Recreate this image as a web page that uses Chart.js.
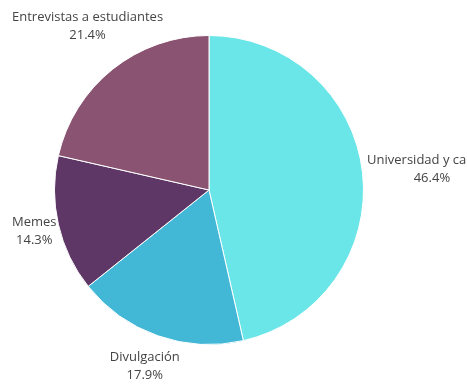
<!DOCTYPE html>
<html>
<head>
<meta charset="utf-8">
<script src="https://cdn.jsdelivr.net/npm/chart.js@4"></script>
<style>
  html, body { margin: 0; padding: 0; background: #fff; }
  #wrap { width: 467px; height: 385px; position: relative; }
</style>
</head>
<body>
<div id="wrap"><canvas id="pieChart"></canvas></div>
<script>
var categories = ['Universidad y carrera', 'Divulgación', 'Memes', 'Entrevistas a estudiantes'];
var counts = [13, 5, 4, 6];
var sliceColors = ['#6ae5e8', '#42b7d6', '#5e3766', '#895371'];

// labels outside each slice: name + percent, pushed out if they touch the pie
var outsideLabels = {
    id: 'outsideLabels',
    afterDatasetsDraw: function(chart) {
        var ctx = chart.ctx;
        var meta = chart.getDatasetMeta(0);
        var total = counts.reduce(function(a, b) { return a + b; }, 0);
        var lineH = 18, blockH = 32;
        ctx.save();
        ctx.font = '13px "Open Sans"';
        ctx.fillStyle = '#444';
        ctx.textAlign = 'center';
        ctx.textBaseline = 'middle';
        meta.data.forEach(function(arc, i) {
            var p = arc.getProps(['x', 'y', 'startAngle', 'endAngle', 'outerRadius'], true);
            var r = p.outerRadius;
            var mid = (p.startAngle + p.endAngle) / 2;
            var cos = Math.cos(mid), sin = Math.sin(mid);
            var line1 = categories[i];
            var line2 = (counts[i] / total * 100).toFixed(1) + '%';
            var w = Math.max(ctx.measureText(line1).width, ctx.measureText(line2).width);
            var cx = p.x + (r + 5) * cos + cos * w / 2;
            var cy = p.y + (r + 32) * sin;
            if (cx - w / 2 < 12) cx = 12 + w / 2;
            // move away from the pie until the text block clears it
            var step = sin < 0 ? -1 : 1;
            for (var k = 0; k < 200; k++) {
                var nx = Math.max(cx - w / 2, Math.min(p.x, cx + w / 2)) - p.x;
                var ny = Math.max(cy - blockH / 2, Math.min(p.y, cy + blockH / 2)) - p.y;
                if (Math.sqrt(nx * nx + ny * ny) >= r) break;
                cy += step;
            }
            ctx.fillText(line1, cx, cy - lineH / 2);
            ctx.fillText(line2, cx, cy + lineH / 2);
        });
        ctx.restore();
    }
};

var pieChart = new Chart(document.getElementById('pieChart').getContext('2d'), {
    type: 'pie',
    data: {
        labels: categories,
        datasets: [{
            data: counts,
            backgroundColor: sliceColors,
            borderColor: '#fff',
            borderWidth: 1,
            hoverOffset: 0
        }]
    },
    options: {
        responsive: true,
        maintainAspectRatio: false,
        animation: false,
        layout: { padding: { left: 54, right: 103, top: 35, bottom: 40 } },
        plugins: {
            legend: { display: false },
            tooltip: { enabled: false }
        }
    },
    plugins: [outsideLabels]
});
</script>
</body>
</html>
